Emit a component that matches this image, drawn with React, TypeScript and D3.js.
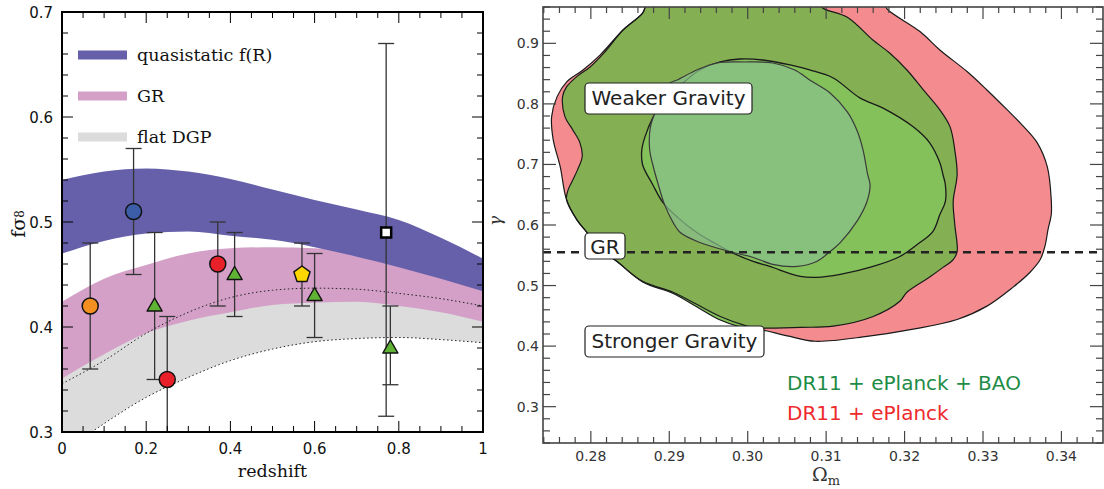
import React from 'react';
import * as d3 from 'd3';

// ---------------- Left panel data ----------------
const zGrid = [0, 0.1, 0.2, 0.3, 0.4, 0.5, 0.6, 0.7, 0.8, 0.9, 1.0];
const fRUpper = [0.540, 0.548, 0.551, 0.548, 0.541, 0.531, 0.521, 0.512, 0.502, 0.485, 0.465];
const fRLower = [0.470, 0.482, 0.489, 0.491, 0.487, 0.483, 0.476, 0.467, 0.457, 0.446, 0.434];
const grUpper = [0.424, 0.446, 0.459, 0.470, 0.475, 0.476, 0.475, 0.472, 0.467, 0.460, 0.450];
const grLower = [0.351, 0.374, 0.394, 0.406, 0.414, 0.421, 0.423, 0.424, 0.420, 0.414, 0.405];
const dgpUpper = [0.420, 0.440, 0.452, 0.460, 0.465, 0.467, 0.467, 0.465, 0.460, 0.452, 0.440];
const dgpLower = [0.280, 0.308, 0.333, 0.352, 0.368, 0.379, 0.386, 0.389, 0.390, 0.388, 0.385];
const dgpDotted = [0.346, 0.368, 0.394, 0.414, 0.428, 0.435, 0.437, 0.436, 0.432, 0.427, 0.420];

const pointZ = [0.067, 0.17, 0.22, 0.25, 0.37, 0.41, 0.57, 0.60, 0.77, 0.78];
const pointF = [0.42, 0.51, 0.42, 0.35, 0.46, 0.45, 0.45, 0.43, 0.49, 0.38];
const pointLo = [0.36, 0.45, 0.35, 0.29, 0.42, 0.41, 0.42, 0.39, 0.315, 0.345];
const pointHi = [0.48, 0.57, 0.49, 0.41, 0.50, 0.49, 0.48, 0.47, 0.67, 0.42];
const pointShape = ['circle', 'circle', 'triangle', 'circle', 'circle', 'triangle', 'pentagon', 'triangle', 'square', 'triangle'];
const pointColor = ['#F39021', '#3C5EA9', '#5FB234', '#E8202A', '#E8202A', '#5FB234', '#FFD700', '#5FB234', '#FFFFFF', '#5FB234'];

const legendLabels = ['quasistatic f(R)', 'GR', 'flat DGP'];
const legendColors = ['#6660AA', '#D4A0C8', '#DCDCDC'];

const zTicks = [0, 0.2, 0.4, 0.6, 0.8, 1];
const zTickLabels = ['0', '0.2', '0.4', '0.6', '0.8', '1'];
const fTicks = [0.3, 0.4, 0.5, 0.6, 0.7];
const fTickLabels = ['0.3', '0.4', '0.5', '0.6', '0.7'];

// ---------------- Right panel data ----------------
const omegaTicks = [0.28, 0.29, 0.30, 0.31, 0.32, 0.33, 0.34];
const omegaTickLabels = ['0.28', '0.29', '0.30', '0.31', '0.32', '0.33', '0.34'];
const gammaTicks = [0.3, 0.4, 0.5, 0.6, 0.7, 0.8, 0.9];
const gammaTickLabels = ['0.3', '0.4', '0.5', '0.6', '0.7', '0.8', '0.9'];
const grGamma = 0.555;

// DR11 + ePlanck, outer contour
const red95: [number, number][] = [
  [0.2875, 0.971], [0.2866, 0.950], [0.2841, 0.922], [0.2812, 0.881], [0.2790, 0.856],
  [0.2769, 0.836], [0.2757, 0.812], [0.2750, 0.779], [0.2752, 0.741], [0.2761, 0.696],
  [0.2769, 0.642], [0.2782, 0.609], [0.2795, 0.588], [0.2812, 0.560], [0.2833, 0.540],
  [0.2866, 0.507], [0.2905, 0.489], [0.2935, 0.469], [0.2965, 0.449], [0.2999, 0.433],
  [0.3025, 0.425], [0.3054, 0.416], [0.3086, 0.408], [0.3152, 0.416], [0.3211, 0.428],
  [0.3267, 0.444], [0.3305, 0.466], [0.3338, 0.497], [0.3360, 0.522], [0.3373, 0.543],
  [0.3379, 0.565], [0.3383, 0.593], [0.3387, 0.617], [0.3387, 0.642], [0.3382, 0.696],
  [0.3369, 0.736], [0.3350, 0.765], [0.3331, 0.790], [0.3305, 0.823], [0.3280, 0.853],
  [0.3245, 0.889], [0.3220, 0.919], [0.3179, 0.955], [0.3169, 0.971],
];
// DR11 + ePlanck + BAO, outer contour
const green95: [number, number][] = [
  [0.2875, 0.971], [0.2866, 0.950], [0.2841, 0.922], [0.2818, 0.886], [0.2799, 0.861],
  [0.2782, 0.845], [0.2769, 0.828], [0.2764, 0.812], [0.2767, 0.779], [0.2777, 0.757],
  [0.2786, 0.736], [0.2789, 0.713], [0.2783, 0.691], [0.2776, 0.672], [0.2771, 0.658],
  [0.2769, 0.642], [0.2782, 0.609], [0.2795, 0.588], [0.2812, 0.560], [0.2833, 0.540],
  [0.2866, 0.506], [0.2905, 0.487], [0.2935, 0.465], [0.2965, 0.443], [0.2990, 0.432],
  [0.3003, 0.430], [0.3067, 0.431], [0.3109, 0.433], [0.3160, 0.449], [0.3194, 0.474],
  [0.3203, 0.489], [0.3232, 0.514], [0.3249, 0.530], [0.3262, 0.543], [0.3267, 0.556],
  [0.3264, 0.601], [0.3262, 0.639], [0.3267, 0.683], [0.3264, 0.724], [0.3258, 0.762],
  [0.3245, 0.790], [0.3224, 0.823], [0.3203, 0.856], [0.3181, 0.884], [0.3160, 0.905],
  [0.3127, 0.943], [0.3096, 0.958], [0.3086, 0.971],
];
// inner contour A
const innerA: [number, number][] = [
  [0.2922, 0.8395], [0.2939, 0.8560], [0.2965, 0.8692], [0.2990, 0.8741], [0.3019, 0.8725],
  [0.3054, 0.8643], [0.3079, 0.8560], [0.3109, 0.8428], [0.3143, 0.8099], [0.3172, 0.7934],
  [0.3211, 0.7621], [0.3232, 0.7358], [0.3245, 0.7028], [0.3249, 0.6830], [0.3252, 0.6665],
  [0.3252, 0.6385], [0.3245, 0.6172], [0.3236, 0.5892], [0.3216, 0.5677], [0.3194, 0.5480],
  [0.3160, 0.5316], [0.3118, 0.5184], [0.3088, 0.5135], [0.3067, 0.5151], [0.3028, 0.5316],
  [0.3007, 0.5398], [0.2977, 0.5562], [0.2961, 0.5677], [0.2935, 0.5875], [0.2911, 0.6122],
  [0.2892, 0.6369], [0.2879, 0.6665], [0.2866, 0.6995], [0.2865, 0.7242], [0.2869, 0.7456],
  [0.2879, 0.7769], [0.2894, 0.8066],
];
// inner contour B
const innerB: [number, number][] = [
  [0.2901, 0.8346], [0.2910, 0.8395], [0.2935, 0.8560], [0.2961, 0.8675], [0.2996, 0.8692],
  [0.3032, 0.8675], [0.3060, 0.8560], [0.3079, 0.8395], [0.3105, 0.8181], [0.3127, 0.7868],
  [0.3139, 0.7572], [0.3147, 0.7242], [0.3153, 0.6830], [0.3156, 0.6665], [0.3152, 0.6385],
  [0.3139, 0.6056], [0.3118, 0.5710], [0.3105, 0.5562], [0.3088, 0.5398], [0.3063, 0.5316],
  [0.3032, 0.5349], [0.3007, 0.5464], [0.2977, 0.5562], [0.2939, 0.5710], [0.2914, 0.5875],
  [0.2905, 0.6040], [0.2894, 0.6336], [0.2886, 0.6665], [0.2879, 0.6995], [0.2875, 0.7242],
  [0.2876, 0.7621], [0.2886, 0.7984],
];

const rightLegend = ['DR11 + ePlanck + BAO', 'DR11 + ePlanck'];
const rightLegendColors = ['#1E8C46', '#EE2A2D'];

const W = 1104, H = 489;
const near = (v: number, step: number) => Math.abs(v / step - Math.round(v / step)) < 1e-6;

function Marker({ shape, cx, cy, color }: { shape: string; cx: number; cy: number; color: string }) {
  if (shape === 'circle') return <circle cx={cx} cy={cy} r={8} fill={color} stroke="#111" strokeWidth={1.5} />;
  if (shape === 'square') return <rect x={cx - 5} y={cy - 5} width={10} height={10} fill={color} stroke="#000" strokeWidth={2.5} />;
  if (shape === 'triangle') {
    const p = [[cx, cy - 8], [cx - 7.5, cy + 5], [cx + 7.5, cy + 5]];
    return <polygon points={p.map(q => q.join(',')).join(' ')} fill={color} stroke="#111" strokeWidth={1.5} strokeLinejoin="round" />;
  }
  const pts = d3.range(5).map(k => {
    const a = (-90 + 72 * k) * Math.PI / 180;
    return [cx + 8.5 * Math.cos(a), cy + 8.5 * Math.sin(a)];
  });
  return <polygon points={pts.map(q => q.join(',')).join(' ')} fill={color} stroke="#111" strokeWidth={1.5} strokeLinejoin="round" />;
}

export default function App() {
  // left scales
  const xL = d3.scaleLinear().domain([0, 1]).range([62, 483]);
  const yL = d3.scaleLinear().domain([0.3, 0.7]).range([432, 12]);
  const band = (lo: number[], hi: number[]) =>
    d3.area<number>().x(d => xL(d)).y0((_, i) => yL(lo[i])).y1((_, i) => yL(hi[i])).curve(d3.curveMonotoneX)(zGrid) || '';
  const line = (v: number[]) =>
    d3.line<number>().x(d => xL(d)).y((_, i) => yL(v[i])).curve(d3.curveMonotoneX)(zGrid) || '';

  // right scales
  const xR = d3.scaleLinear().domain([0.2739, 0.3453]).range([543, 1103]);
  const yR = d3.scaleLinear().domain([0.24, 0.96]).range([443, 7]);
  const contour = (pts: [number, number][]) =>
    d3.line<[number, number]>().x(d => xR(d[0])).y(d => yR(d[1])).curve(d3.curveCatmullRomClosed.alpha(0.5))(pts) || '';

  const [lx0, lx1] = xL.range();
  const [ly0, ly1] = [yL(0.3), yL(0.7)];
  const [rx0, rx1] = xR.range();
  const [ry0, ry1] = [yR(0.24), yR(0.96)];

  const zMinor = d3.range(0, 1.0001, 0.05);
  const fMinor = d3.range(0.3, 0.7001, 0.02);
  const oMinor = d3.range(0.274, 0.3453, 0.002);
  const gMinor = d3.range(0.24, 0.9601, 0.02);

  const serif = '"DejaVu Serif", "Liberation Serif", serif';
  const sans = '"DejaVu Sans", "Liberation Sans", sans-serif';

  return (
    <svg width={W} height={H} style={{ position: 'absolute', left: 0, top: 0, background: '#fff' }}>
      <defs>
        <clipPath id="clipL"><rect x={lx0} y={ly1} width={lx1 - lx0} height={ly0 - ly1} /></clipPath>
        <clipPath id="clipR"><rect x={rx0} y={ry1} width={rx1 - rx0} height={ry0 - ry1} /></clipPath>
        <clipPath id="clipRed"><path d={contour(red95)} /></clipPath>
      </defs>

      {/* ================= LEFT PANEL ================= */}
      <g clipPath="url(#clipL)">
        <path d={band(dgpLower, dgpUpper)} fill="#DCDCDC" />
        <path d={band(grLower, grUpper)} fill="#D4A0C8" />
        <path d={band(fRLower, fRUpper)} fill="#6660AA" />
        <path d={line(dgpDotted)} fill="none" stroke="#222" strokeWidth={1} strokeDasharray="1.5,2.5" />
        <path d={line(dgpLower)} fill="none" stroke="#222" strokeWidth={1} strokeDasharray="1.5,2.5" />
        {pointZ.map((z, i) => {
          const x = xL(z);
          return (
            <g key={'eb' + i} stroke="#333" strokeWidth={1.3}>
              <line x1={x} x2={x} y1={yL(pointLo[i])} y2={yL(pointHi[i])} />
              <line x1={x - 8} x2={x + 8} y1={yL(pointLo[i])} y2={yL(pointLo[i])} />
              <line x1={x - 8} x2={x + 8} y1={yL(pointHi[i])} y2={yL(pointHi[i])} />
            </g>
          );
        })}
        {pointZ.map((z, i) => (
          <Marker key={'m' + i} shape={pointShape[i]} cx={xL(z)} cy={yL(pointF[i])} color={pointColor[i]} />
        ))}
      </g>

      {/* legend */}
      {legendLabels.map((lab, i) => {
        const y = 55 + i * 41;
        return (
          <g key={'lg' + i}>
            <rect x={78} y={y - 4.5} width={49} height={9} fill={legendColors[i]} />
            <text x={137} y={y + 6} fontFamily={serif} fontSize={17.5} fill="#111">{lab}</text>
          </g>
        );
      })}

      {/* left ticks */}
      <g stroke="#000" strokeWidth={1}>
        {zMinor.map((v, i) => {
          const len = near(v, 0.2) ? 11 : 6;
          const x = xL(v);
          return (
            <g key={'zt' + i}>
              <line x1={x} x2={x} y1={ly0} y2={ly0 - len} />
              <line x1={x} x2={x} y1={ly1} y2={ly1 + len} />
            </g>
          );
        })}
        {fMinor.map((v, i) => {
          const len = near(v, 0.1) ? 11 : 6;
          const y = yL(v);
          return (
            <g key={'ft' + i}>
              <line x1={lx0} x2={lx0 + len} y1={y} y2={y} />
              <line x1={lx1} x2={lx1 - len} y1={y} y2={y} />
            </g>
          );
        })}
      </g>
      <rect x={lx0} y={ly1} width={lx1 - lx0} height={ly0 - ly1} fill="none" stroke="#000" strokeWidth={2} />
      {zTicks.map((v, i) => (
        <text key={'zl' + i} x={xL(v)} y={454} textAnchor="middle" fontFamily={sans} fontSize={15} fill="#111">{zTickLabels[i]}</text>
      ))}
      {fTicks.map((v, i) => (
        <text key={'fl' + i} x={53} y={yL(v) + 5.5} textAnchor="end" fontFamily={sans} fontSize={15} fill="#111">{fTickLabels[i]}</text>
      ))}
      <text x={(lx0 + lx1) / 2} y={477} textAnchor="middle" fontFamily={serif} fontSize={17.5} fill="#111">redshift</text>
      <text transform="translate(25,224) rotate(-90)" textAnchor="middle" fontFamily={serif} fontSize={19} fill="#111">
        f<tspan>σ</tspan><tspan fontSize={12} dy={-1}>8</tspan>
      </text>

      {/* ================= RIGHT PANEL ================= */}
      <g clipPath="url(#clipR)">
        <path d={contour(red95)} fill="#F48C8F" />
        <path d={contour(green95)} fill="#84C15B" />
        <path d={contour(green95)} fill="#84AF52" clipPath="url(#clipRed)" />
        <path d={contour(red95)} fill="none" stroke="#1a1a1a" strokeWidth={1.2} />
        <path d={contour(green95)} fill="none" stroke="#1a1a1a" strokeWidth={1.2} />
        <path d={contour(innerA)} fill="#84C15B" stroke="#1a1a1a" strokeWidth={1.3} />
        <path d={contour(innerB)} fill="rgba(138,192,141,0.7)" stroke="#3a3a3a" strokeWidth={1.2} />
        <line x1={rx0} x2={rx1} y1={yR(grGamma)} y2={yR(grGamma)} stroke="#222" strokeWidth={2.5} strokeDasharray="8,6" />
      </g>

      {/* annotation boxes */}
      <g fontFamily={sans} fontSize={20} fill="#222">
        <rect x={585} y={83} width={167} height={31} rx={4} fill="#fff" stroke="#222" strokeWidth={1.2} />
        <text x={668.5} y={105} textAnchor="middle">Weaker Gravity</text>
        <rect x={585} y={233} width={40} height={26} rx={4} fill="#fff" stroke="#222" strokeWidth={1.2} />
        <text x={605} y={253.5} textAnchor="middle">GR</text>
        <rect x={585} y={326} width={179} height={31} rx={4} fill="#fff" stroke="#222" strokeWidth={1.2} />
        <text x={674.5} y={347.5} textAnchor="middle">Stronger Gravity</text>
      </g>

      {rightLegend.map((lab, i) => (
        <text key={'rl' + i} x={787} y={389.5 + i * 30.5} fontFamily={sans} fontSize={20} fill={rightLegendColors[i]}>{lab}</text>
      ))}

      {/* right ticks */}
      <g stroke="#444" strokeWidth={1.2}>
        {oMinor.map((v, i) => {
          const len = near(v, 0.01) ? 12 : 6;
          const x = xR(v);
          return (
            <g key={'ot' + i}>
              <line x1={x} x2={x} y1={ry0} y2={ry0 - len} />
              <line x1={x} x2={x} y1={ry1} y2={ry1 + len} />
            </g>
          );
        })}
        {gMinor.map((v, i) => {
          const len = near(v, 0.1) ? 13 : 7;
          const y = yR(v);
          return (
            <g key={'gt' + i}>
              <line x1={rx0} x2={rx0 + len} y1={y} y2={y} />
              <line x1={rx1} x2={rx1 - len} y1={y} y2={y} />
            </g>
          );
        })}
      </g>
      <rect x={rx0} y={ry1} width={rx1 - rx0} height={ry0 - ry1} fill="none" stroke="#444" strokeWidth={1.6} />
      {omegaTicks.map((v, i) => (
        <text key={'ol' + i} x={xR(v)} y={461} textAnchor="middle" fontFamily={sans} fontSize={14} fill="#333">{omegaTickLabels[i]}</text>
      ))}
      {gammaTicks.map((v, i) => (
        <text key={'gl' + i} x={539} y={yR(v) + 5} textAnchor="end" fontFamily={sans} fontSize={14} fill="#333">{gammaTickLabels[i]}</text>
      ))}
      <text x={812} y={481} fontFamily={serif} fontSize={19} fill="#333">
        Ω<tspan fontSize={13} dy={4}>m</tspan>
      </text>
      <text transform="translate(501,221) rotate(-90)" textAnchor="middle" fontFamily={serif} fontStyle="italic" fontSize={17} fill="#333">γ</text>
    </svg>
  );
}
